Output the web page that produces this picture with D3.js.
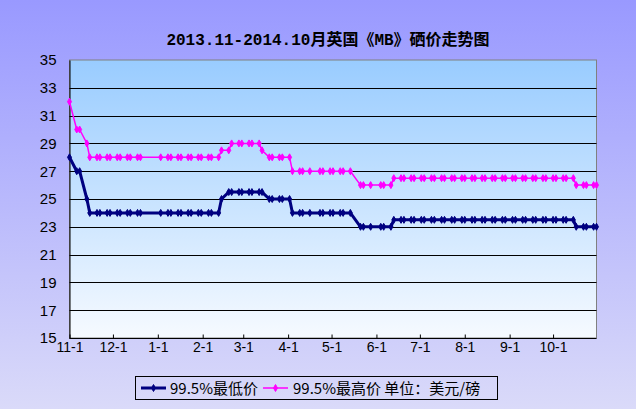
<!DOCTYPE html>
<html><head><meta charset="utf-8">
<script src="https://cdn.jsdelivr.net/npm/d3@7"></script>
<style>body{margin:0;padding:0;overflow:hidden;}svg{display:block;}</style>
</head><body>
<script>
const titleText = "2013.11-2014.10月英国《MB》硒价走势图";
const seriesNames = ["99.5%最低价", "99.5%最高价 单位：美元/磅"];
const dates = [
 "2013-11-01","2013-11-06","2013-11-08","2013-11-13","2013-11-15","2013-11-20","2013-11-22","2013-11-27","2013-11-29",
 "2013-12-04","2013-12-06","2013-12-11","2013-12-13","2013-12-18","2013-12-20",
 "2014-01-03","2014-01-08","2014-01-10","2014-01-15","2014-01-17","2014-01-22","2014-01-24","2014-01-29","2014-01-31",
 "2014-02-05","2014-02-07","2014-02-12","2014-02-14","2014-02-19","2014-02-21","2014-02-26","2014-02-28",
 "2014-03-05","2014-03-07","2014-03-12","2014-03-14","2014-03-19","2014-03-21","2014-03-26","2014-03-28",
 "2014-04-02","2014-04-04","2014-04-09","2014-04-11","2014-04-16","2014-04-23","2014-04-25","2014-04-30",
 "2014-05-02","2014-05-07","2014-05-09","2014-05-14","2014-05-21","2014-05-23","2014-05-28",
 "2014-06-04","2014-06-06","2014-06-11","2014-06-13","2014-06-18","2014-06-20","2014-06-25","2014-06-27",
 "2014-07-02","2014-07-04","2014-07-09","2014-07-11","2014-07-16","2014-07-18","2014-07-23","2014-07-25","2014-07-30",
 "2014-08-01","2014-08-06","2014-08-08","2014-08-13","2014-08-15","2014-08-20","2014-08-22","2014-08-27","2014-08-29",
 "2014-09-03","2014-09-05","2014-09-10","2014-09-12","2014-09-17","2014-09-19","2014-09-24","2014-09-26",
 "2014-10-01","2014-10-03","2014-10-08","2014-10-10","2014-10-15","2014-10-17","2014-10-22","2014-10-24","2014-10-29","2014-10-31"
];
const lowValues = [
 28,27,27,25,24,24,24,24,24,
 24,24,24,24,24,24,
 24,24,24,24,24,24,24,24,24,
 24,24,24,25,25.5,25.5,25.5,25.5,
 25.5,25.5,25.5,25.5,25,25,25,25,
 25,24,24,24,24,24,24,24,
 24,24,24,24,23,23,23,
 23,23,23,23.5,23.5,23.5,23.5,23.5,
 23.5,23.5,23.5,23.5,23.5,23.5,23.5,23.5,23.5,
 23.5,23.5,23.5,23.5,23.5,23.5,23.5,23.5,23.5,
 23.5,23.5,23.5,23.5,23.5,23.5,23.5,23.5,
 23.5,23.5,23.5,23.5,23.5,23,23,23,23,23
];
const highValues = [
 32,30,30,29,28,28,28,28,28,
 28,28,28,28,28,28,
 28,28,28,28,28,28,28,28,28,
 28,28,28,28.5,28.5,29,29,29,
 29,29,29,28.5,28,28,28,28,
 28,27,27,27,27,27,27,27,
 27,27,27,27,26,26,26,
 26,26,26,26.5,26.5,26.5,26.5,26.5,
 26.5,26.5,26.5,26.5,26.5,26.5,26.5,26.5,26.5,
 26.5,26.5,26.5,26.5,26.5,26.5,26.5,26.5,26.5,
 26.5,26.5,26.5,26.5,26.5,26.5,26.5,26.5,
 26.5,26.5,26.5,26.5,26.5,26,26,26,26,26
];
const xTickLabels = ["11-1","12-1","1-1","2-1","3-1","4-1","5-1","6-1","7-1","8-1","9-1","10-1"];
const yTicks = [15,17,19,21,23,25,27,29,31,33,35];

const W = 636, H = 409;
const parse = d3.timeParse("%Y-%m-%d");
const svg = d3.select("body").append("svg").attr("width", W).attr("height", H);
const defs = svg.append("defs");
const bg = defs.append("linearGradient").attr("id","bg").attr("x1",0).attr("y1",0).attr("x2",0).attr("y2",1);
bg.append("stop").attr("offset","0%").attr("stop-color","#9999FF");
bg.append("stop").attr("offset","100%").attr("stop-color","#DADAF9");
const pg = defs.append("linearGradient").attr("id","pg").attr("x1",0).attr("y1",0).attr("x2",0).attr("y2",1);
pg.append("stop").attr("offset","0%").attr("stop-color","#99CCFF");
pg.append("stop").attr("offset","100%").attr("stop-color","#F6FAFF");

svg.append("rect").attr("width",W).attr("height",H).attr("fill","url(#bg)");

const x = d3.scaleTime().domain([parse("2013-11-01"), parse("2014-10-31")]).range([69.5, 596.5]);
const y = d3.scaleLinear().domain([15, 35]).range([338, 60]);

svg.append("rect").attr("x",69.5).attr("y",60).attr("width",527).attr("height",278)
  .attr("fill","url(#pg)").attr("stroke","#808080").attr("stroke-width",1);

// gridlines
svg.append("g").selectAll("line").data(yTicks.filter(v => v > 15 && v < 35)).join("line")
  .attr("x1",69.5).attr("x2",596.5).attr("y1",d=>Math.round(y(d))+0.5).attr("y2",d=>Math.round(y(d))+0.5)
  .attr("stroke","#000").attr("stroke-width",1);

// y axis
const yAxis = d3.axisLeft(y).tickValues(yTicks).tickSize(0).tickPadding(13);
const gy = svg.append("g").attr("transform","translate(69.5,0)").call(yAxis);
gy.select(".domain").attr("stroke","#000");
gy.selectAll("text").attr("font-family","Liberation Sans, sans-serif").attr("font-size",15).attr("fill","#000");

// x axis
const monthTicks = d3.timeMonth.range(parse("2013-11-01"), parse("2014-10-31"));
const xAxis = d3.axisBottom(x).tickValues(monthTicks).tickSize(-4).tickPadding(4)
  .tickFormat((d,i) => xTickLabels[i]);
const gx = svg.append("g").attr("transform","translate(0,338.5)").call(xAxis);
gx.select(".domain").attr("stroke","#000").attr("d","M69.5,0H596.5");
gx.selectAll(".tick line").attr("stroke","#000");
gx.selectAll("text").attr("font-family","Liberation Sans, sans-serif").attr("font-size",14).attr("fill","#000");

const data = dates.map((d,i) => ({date: parse(d), low: lowValues[i], high: highValues[i]}));
const diamond = d3.symbol().type(d3.symbolDiamond);

function drawSeries(key, color, width, msize) {
  const line = d3.line().x(d => x(d.date)).y(d => y(d[key]));
  svg.append("path").datum(data).attr("d", line).attr("fill","none")
    .attr("stroke", color).attr("stroke-width", width).attr("stroke-linejoin","round");
  svg.append("g").selectAll("path").data(data).join("path")
    .attr("d", diamond.size(msize)())
    .attr("transform", d => `translate(${x(d.date)},${y(d[key])})`)
    .attr("fill", color).attr("stroke", color).attr("stroke-width", 1);
}
drawSeries("high", "#FF00FF", 1.5, 14);
drawSeries("low", "#000080", 3, 14);

// title
svg.append("text").attr("x", 328).attr("y", 45).attr("text-anchor","middle")
  .attr("font-family","Liberation Mono, Noto Sans CJK SC, monospace").attr("font-size",16).attr("font-weight","bold")
  .attr("fill","#000").text(titleText);

// legend
const lg = svg.append("g");
lg.append("rect").attr("x",135.5).attr("y",376.5).attr("width",362).attr("height",23)
  .attr("fill","none").attr("stroke","#000").attr("stroke-width",1);
const legendItems = [
  {name: seriesNames[0], color: "#000080", w: 3, x0: 141, x1: 166, tx: 170},
  {name: seriesNames[1], color: "#FF00FF", w: 1.5, x0: 263, x1: 288, tx: 293}
];
legendItems.forEach(it => {
  lg.append("line").attr("x1",it.x0).attr("x2",it.x1).attr("y1",388).attr("y2",388)
    .attr("stroke",it.color).attr("stroke-width",it.w);
  lg.append("path").attr("d", diamond.size(14)()).attr("transform",`translate(${(it.x0+it.x1)/2},388)`)
    .attr("fill",it.color).attr("stroke",it.color);
  lg.append("text").attr("x",it.tx).attr("y",394).attr("font-family","Noto Sans CJK SC, sans-serif")
    .attr("font-size",15).attr("fill","#000").text(it.name);
});
</script>
</body></html>
